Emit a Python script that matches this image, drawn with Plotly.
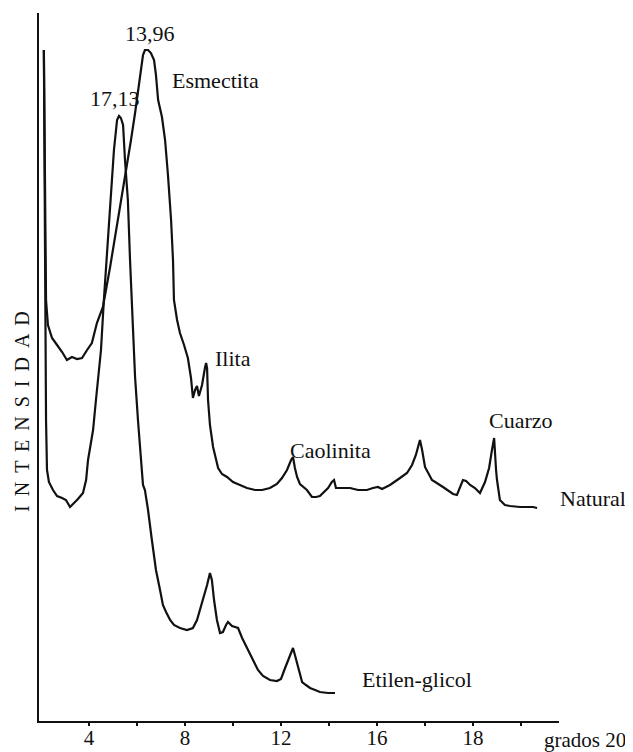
import plotly.graph_objects as go

# 2-theta (degrees) and intensity (arbitrary units)
natural_2theta = [2.12, 2.17, 2.21, 2.29, 2.46, 2.67, 2.88, 3.08, 3.29, 3.50, 3.71, 3.92, 4.12, 4.33, 4.58,
                  4.88, 5.21, 5.42, 5.58, 5.75, 5.92, 6.08, 6.25, 6.33, 6.46, 6.58, 6.71, 6.79, 6.88, 7.04,
                  7.17, 7.29, 7.42, 7.50, 7.54, 7.67, 7.79, 7.96, 8.12, 8.25, 8.33, 8.42, 8.50, 8.58, 8.71,
                  8.83, 8.88, 8.92, 8.96, 9.04, 9.17, 9.38, 9.54, 9.75, 10.00, 10.29, 10.58, 10.92, 11.21,
                  11.54, 11.83, 12.04, 12.25, 12.42, 12.50, 12.58, 12.67, 12.79, 12.92, 13.08, 13.29, 13.46,
                  13.62, 13.75, 13.96, 14.12, 14.21, 14.29, 14.46, 14.88, 15.21, 15.58, 15.83, 16.04, 16.21,
                  16.54, 16.96, 17.25, 17.46, 17.62, 17.79, 17.88, 18.00, 18.29, 18.75, 19.17, 19.33, 19.46,
                  19.58, 19.71, 19.88, 20.08, 20.29, 20.50, 20.67, 20.79, 20.88, 20.96, 21.00, 21.12, 21.33,
                  21.54, 21.96, 22.50, 22.67]
natural_int = [671, 521, 421, 396, 383, 376, 369, 361, 364, 362, 363, 371, 378, 398, 414,
               454, 501, 531, 554, 581, 608, 636, 666, 671, 671, 668, 661, 646, 621, 604,
               581, 546, 501, 461, 421, 401, 388, 376, 363, 343, 323, 331, 335, 325, 336,
               353, 358, 353, 321, 296, 274, 253, 247, 244, 239, 236, 233, 231, 231,
               233, 237, 243, 251, 261, 264, 253, 244, 237, 234, 231, 224, 224,
               225, 228, 233, 239, 241, 233, 233, 233, 231, 231, 233, 234, 232,
               236, 243, 248, 256, 266, 281, 271, 254, 241, 234, 227, 226, 233,
               241, 240, 236, 233, 228, 239, 253, 271, 283, 251, 241, 221, 216,
               215, 214, 214, 213]

glicol_2theta = [2.12, 2.17, 2.21, 2.25, 2.33, 2.50, 2.67, 2.88, 3.04, 3.21, 3.38, 3.54, 3.75, 3.88, 3.96,
                 4.08, 4.17, 4.29, 4.38, 4.50, 4.62, 4.75, 4.88, 5.04, 5.17, 5.25, 5.33, 5.42, 5.50, 5.62,
                 5.71, 5.83, 5.92, 6.04, 6.17, 6.25, 6.33, 6.46, 6.62, 6.79, 6.96, 7.08, 7.21, 7.38, 7.54,
                 7.79, 8.08, 8.33, 8.50, 8.75, 8.92, 9.04, 9.12, 9.21, 9.33, 9.46, 9.58, 9.71, 9.79, 9.96,
                 10.21, 10.38, 10.62, 10.88, 11.04, 11.25, 11.54, 11.83, 12.00, 12.17, 12.38, 12.50, 12.58,
                 12.71, 12.88, 13.04, 13.21, 13.42, 13.62, 13.96, 14.25]
glicol_int = [671, 421, 301, 251, 239, 231, 225, 223, 221, 214, 218, 222, 228, 241, 261,
              276, 291, 321, 341, 371, 421, 471, 521, 571, 601, 605, 603, 596, 561, 521,
              461, 388, 344, 301, 261, 236, 231, 211, 181, 151, 131, 116, 109, 101, 96,
              93, 91, 93, 101, 121, 136, 148, 141, 121, 101, 88, 89, 96, 99, 95,
              93, 83, 71, 59, 51, 45, 41, 40, 42, 53, 66, 73, 66,
              53, 39, 36, 33, 31, 29, 28, 28]

tick_vals = [4, 6, 8, 10, 12, 14, 16, 18, 20, 22]
tick_text = ["4", "", "8", "", "12", "", "16", "", "18", ""]

FONT = "Liberation Serif"
BLACK = "#111111"

fig = go.Figure()
fig.add_trace(go.Scatter(x=natural_2theta, y=natural_int, mode="lines",
                         line=dict(color=BLACK, width=2.2), name="Natural", showlegend=False))
fig.add_trace(go.Scatter(x=glicol_2theta, y=glicol_int, mode="lines",
                         line=dict(color=BLACK, width=2.2), name="Etilen-glicol", showlegend=False))

labels = [
    ("13,96", 6.54, 688, "center"),
    ("Esmectita", 7.38, 641, "left"),
    ("17,13", 5.08, 623, "center"),
    ("Ilita", 9.17, 363, "left"),
    ("Caolinita", 12.29, 271, "left"),
    ("Cuarzo", 20.58, 301, "left"),
    ("Natural", 23.54, 223, "left"),
    ("Etilen-glicol", 15.29, 42, "left"),
]
for txt, xv, yv, anc in labels:
    fig.add_annotation(x=xv, y=yv, xref="x", yref="y", text=txt, showarrow=False,
                       xanchor=anc, yanchor="middle", font=dict(family=FONT, size=22, color=BLACK))

fig.add_annotation(x=1.1327, y=-0.027, xref="paper", yref="paper", text="grados 20",
                   showarrow=False, xanchor="right", yanchor="middle",
                   font=dict(family=FONT, size=21, color=BLACK))
fig.add_annotation(x=-0.0327, y=0.438, xref="paper", yref="paper",
                   text="I \u2009N \u2009T \u2009E \u2009N \u2009S \u2009I \u2009D \u2009A \u2009D",
                   textangle=-90, showarrow=False, xanchor="center", yanchor="middle",
                   font=dict(family=FONT, size=20, color=BLACK))

# the page adds an 8px body margin, so the figure is sized/offset to compensate
fig.update_layout(
    width=625, height=744,
    margin=dict(l=31, r=74, t=5, b=31, autoexpand=False),
    paper_bgcolor="white", plot_bgcolor="white",
    font=dict(family=FONT, size=21, color=BLACK),
    xaxis=dict(range=[1.917, 23.583], showgrid=False, zeroline=False, automargin=False,
               showline=True, linecolor=BLACK, linewidth=2,
               tickvals=tick_vals, ticktext=tick_text, ticks="outside", ticklen=3,
               ticklabelstandoff=-6,
               tickwidth=2, tickcolor=BLACK, tickfont=dict(family=FONT, size=21, color=BLACK)),
    yaxis=dict(range=[0, 708], showgrid=False, zeroline=False, showticklabels=False, automargin=False,
               showline=True, linecolor=BLACK, linewidth=2, ticks=""),
)

fig.write_html("out.html")
